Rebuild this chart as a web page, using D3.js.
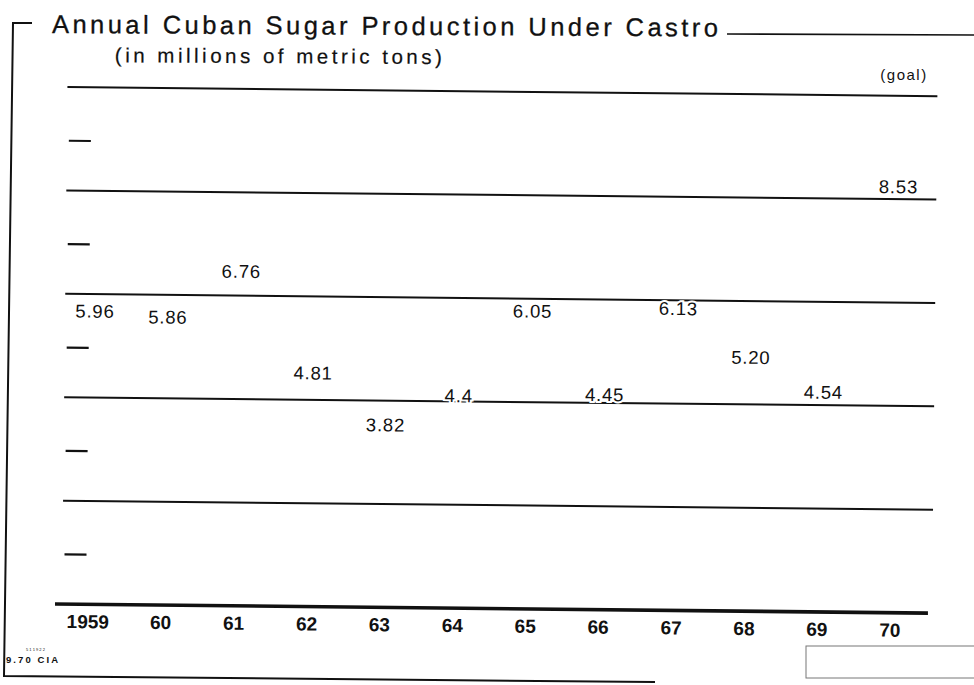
<!DOCTYPE html>
<html>
<head>
<meta charset="utf-8">
<script src="https://cdn.jsdelivr.net/npm/d3@7"></script>
<style>
  html, body { margin: 0; padding: 0; background: #fff; }
  svg { display: block; }
  text { font-family: "Liberation Sans", Arial, Helvetica, sans-serif; fill: #111; }
</style>
</head>
<body>
<svg id="chart" width="974" height="685"></svg>
<script>
// ---- data ----
const years = ["1959", "60", "61", "62", "63", "64", "65", "66", "67", "68", "69", "70"];
const production = [5.96, 5.86, 6.76, 4.81, 3.82, 4.4, 6.05, 4.45, 6.13, 5.20, 4.54, 8.53];
const valueLabels = ["5.96", "5.86", "6.76", "4.81", "3.82", "4.4", "6.05", "4.45", "6.13", "5.20", "4.54", "8.53"];
const majorTicks = [2, 4, 6, 8, 10];
const minorTicks = [1, 3, 5, 7, 9];
const titleText = "Annual Cuban Sugar Production Under Castro";
const subtitleText = "(in millions of metric tons)";
const goalText = "(goal)";
const creditText = "9.70 CIA";

// ---- drawing ----
const svg = d3.select("#chart");

const x = d3.scaleBand().domain(years).range([51.5, 926.5]).padding(0);
const y = d3.scaleLinear().domain([0, 10]).range([604, 87]);

// frame
svg.append("path")
  .attr("d", "M32,23 L13,23 L4,676 L655,682")
  .attr("fill", "none").attr("stroke", "#111").attr("stroke-width", 2);
svg.append("line")
  .attr("x1", 727).attr("x2", 974).attr("y1", 34).attr("y2", 35)
  .attr("stroke", "#111").attr("stroke-width", 1.6);
svg.append("rect")
  .attr("x", 806).attr("y", 646).attr("width", 170).attr("height", 32)
  .attr("fill", "none").attr("stroke", "#777").attr("stroke-width", 1);

// titles
const tg = svg.append("g").attr("transform", "rotate(0.3, 52, 33)");
tg.append("text").attr("x", 52).attr("y", 33)
  .attr("font-family", "'DejaVu Sans', sans-serif")
  .attr("font-size", 25.5).attr("stroke", "#111").attr("stroke-width", 0.3)
  .attr("textLength", 666).attr("lengthAdjust", "spacing")
  .text(titleText);
tg.append("text").attr("x", 115).attr("y", 62)
  .attr("font-family", "'DejaVu Sans', sans-serif")
  .attr("font-size", 20.5).attr("stroke", "#111").attr("stroke-width", 0.2)
  .attr("textLength", 327).attr("lengthAdjust", "spacing")
  .text(subtitleText);
svg.append("text").attr("x", 904).attr("y", 80).attr("text-anchor", "middle")
  .attr("font-size", 15).attr("letter-spacing", 1.5)
  .text(goalText);

// credit
svg.append("text").attr("x", 26).attr("y", 651)
  .attr("font-size", 4).attr("fill", "#555").text("5 1 1 9 2 2");
svg.append("text").attr("x", 6).attr("y", 663)
  .attr("font-size", 9.5).attr("font-weight", "bold")
  .attr("textLength", 52).attr("lengthAdjust", "spacing")
  .text(creditText);

// slightly skewed plot (scan)
const g = svg.append("g").attr("transform", "rotate(0.6, 60, 604)");

// major gridlines
g.selectAll("line.major").data(majorTicks).join("line")
  .attr("class", "major")
  .attr("x1", 62).attr("x2", 932)
  .attr("y1", d => y(d)).attr("y2", d => y(d))
  .attr("stroke", "#111").attr("stroke-width", 2);

// minor ticks (short dashes at left)
g.selectAll("line.minor").data(minorTicks).join("line")
  .attr("class", "minor")
  .attr("x1", 64).attr("x2", 86)
  .attr("y1", d => y(d) + 2).attr("y2", d => y(d) + 2)
  .attr("stroke", "#111").attr("stroke-width", 2.2);

// baseline
g.append("line")
  .attr("x1", 55).attr("x2", 928)
  .attr("y1", y(0)).attr("y2", y(0))
  .attr("stroke", "#111").attr("stroke-width", 3.6);

// year labels via axis
const xAxis = d3.axisBottom(x).tickSize(0).tickPadding(0);
const ax = g.append("g").attr("transform", `translate(0,${y(0)})`).call(xAxis);
ax.select(".domain").remove();
ax.selectAll("text")
  .attr("y", 24).attr("dy", 0)
  .attr("font-size", 19).attr("font-weight", "bold")
  .attr("font-family", "'Liberation Sans', Arial, sans-serif")
  .attr("fill", "#111");

// value labels (bars lost in the scan; labels sit just below each bar top)
g.selectAll("text.val").data(production).join("text")
  .attr("class", "val")
  .attr("x", (d, i) => x(years[i]) + x.bandwidth() / 2 + 4)
  .attr("y", d => y(d) + 21.5)
  .attr("text-anchor", "middle")
  .attr("font-size", 18.5)
  .attr("letter-spacing", 0.8)
  .attr("stroke", "#fff").attr("stroke-width", 4)
  .attr("paint-order", "stroke")
  .text((d, i) => valueLabels[i]);
</script>
</body>
</html>
